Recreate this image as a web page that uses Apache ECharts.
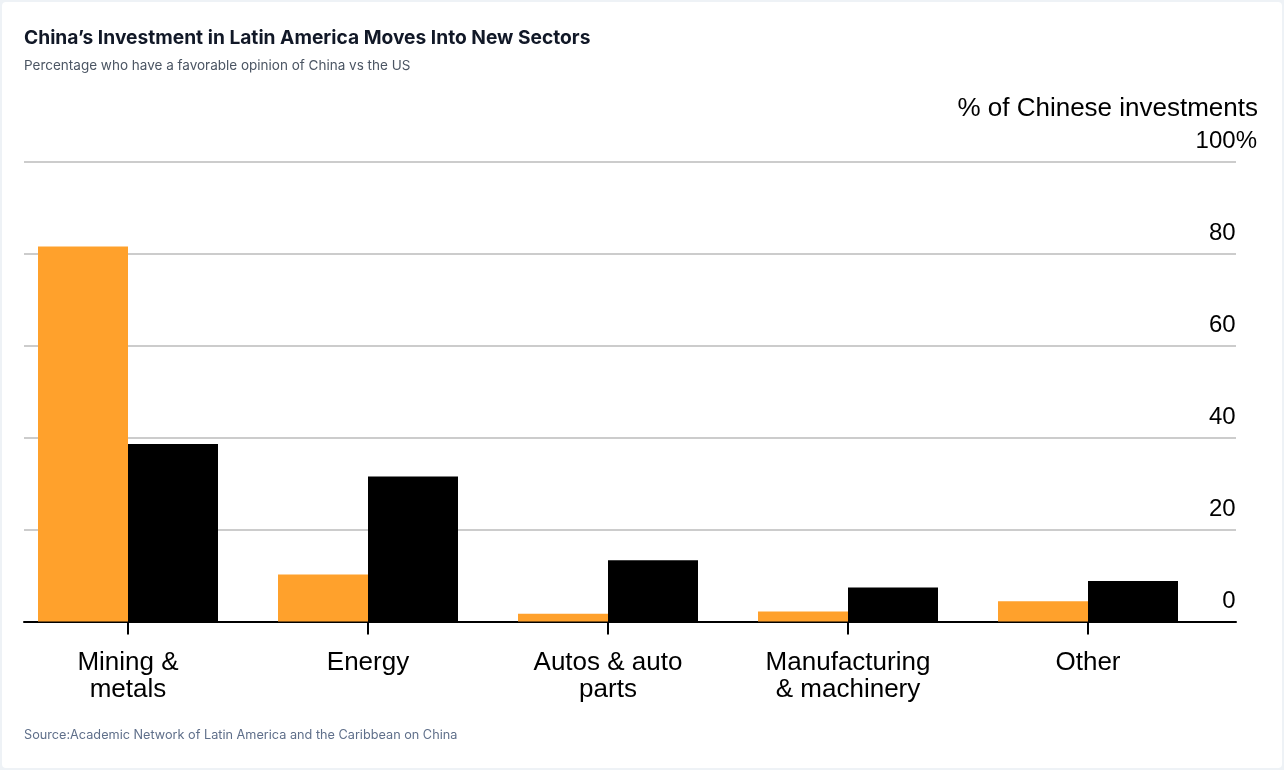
<!DOCTYPE html>
<html>
<head>
<meta charset="utf-8">
<script src="https://cdn.jsdelivr.net/npm/echarts@6/dist/echarts.min.js"></script>
<style>
  html, body { margin: 0; padding: 0; background: #eef2f6; width: 1284px; height: 770px; overflow: hidden; }
  #card { position: absolute; left: 2px; top: 2px; width: 1280px; height: 766px; background: #ffffff; border-radius: 4px; }
  #chart { position: absolute; left: 0; top: 0; width: 1284px; height: 770px; }
</style>
</head>
<body>
<div id="card"></div>
<div id="chart"></div>
<script>
// ---- data ----
const categories = ['Mining &\nmetals', 'Energy', 'Autos & auto\nparts', 'Manufacturing\n& machinery', 'Other'];
const seriesOrangeName = 'Series 1';
const seriesOrange = [81.5, 10.2, 1.7, 2.2, 4.4];
const seriesBlackName = 'Series 2';
const seriesBlack = [38.6, 31.5, 13.3, 7.4, 8.8];
const yTicks = [0, 20, 40, 60, 80, 100];
const titleText = 'China\u2019s Investment in Latin America Moves Into New Sectors';
const subtitleText = 'Percentage who have a favorable opinion of China vs the US';
const sourceText = 'Source:Academic Network of Latin America and the Caribbean on China';
const unitText = '% of Chinese investments';

const chart = echarts.init(document.getElementById('chart'), null, { renderer: 'canvas' });

const axisFont = '"Liberation Sans", Arial, Helvetica, sans-serif';
const uiFont = 'Inter, "Noto Sans", sans-serif';
const plotTop = 161.5;
const plotBottom = 770 - 621.5;

const option = {
  backgroundColor: 'transparent',
  animation: false,
  title: [
    { text: titleText, left: 24, top: 28.5, padding: 0,
      textStyle: { fontFamily: uiFont, fontSize: 19.2, fontWeight: 700, color: '#111827', lineHeight: 19 } },
    { text: subtitleText, left: 24, top: 59.5, padding: 0,
      textStyle: { fontFamily: uiFont, fontSize: 13.5, fontWeight: 400, color: '#4b5563', lineHeight: 13 } },
    { text: sourceText, left: 24, top: 729, padding: 0,
      textStyle: { fontFamily: uiFont, fontSize: 12.7, fontWeight: 400, color: '#5f6f8a', lineHeight: 12 } },
    { text: unitText, right: 26, top: 96, padding: 0,
      textStyle: { fontFamily: axisFont, fontSize: 26, fontWeight: 400, color: '#000', lineHeight: 26 } }
  ],
  grid: [
    { left: 24, right: 48, top: plotTop, bottom: plotBottom },
    { left: 8, right: 76, top: plotTop, bottom: plotBottom }
  ],
  xAxis: [
    { type: 'category', gridIndex: 0, data: categories,
      axisLine: { show: true, lineStyle: { color: '#000', width: 2 } },
      axisTick: { show: false }, axisLabel: { show: false }, splitLine: { show: false } },
    { type: 'category', gridIndex: 1, data: categories,
      axisLine: { show: false },
      axisTick: { show: true, alignWithLabel: true, length: 13, lineStyle: { color: '#000', width: 2 } },
      axisLabel: { interval: 0, margin: 28, fontFamily: axisFont, fontSize: 26, lineHeight: 27, color: '#000' },
      splitLine: { show: false } }
  ],
  yAxis: [
    { type: 'value', gridIndex: 0, position: 'right', min: yTicks[0], max: yTicks[yTicks.length - 1], interval: 20,
      axisLine: { show: false }, axisTick: { show: false },
      splitLine: { show: true, lineStyle: { color: '#cccccc', width: 2 } },
      axisLabel: {
        inside: true, margin: -21, fontFamily: axisFont, fontSize: 24, color: '#000',
        verticalAlign: 'bottom', lineHeight: 24, padding: [0, 0, 8, 0],
        formatter: function (v) { return v === 100 ? '100%' : v + '{h|%}'; },
        rich: { h: { color: 'rgba(0,0,0,0)', fontFamily: axisFont, fontSize: 24, lineHeight: 24 } }
      } },
    { type: 'value', gridIndex: 1, min: 0, max: 100, show: false }
  ],
  series: [
    { name: seriesOrangeName, type: 'bar', xAxisIndex: 1, yAxisIndex: 1, data: seriesOrange,
      barWidth: 90, barGap: '0%', itemStyle: { color: '#FFA12C' }, z: 1 },
    { name: seriesBlackName, type: 'bar', xAxisIndex: 1, yAxisIndex: 1, data: seriesBlack,
      barWidth: 90, barGap: '0%', itemStyle: { color: '#000000' }, z: 1 }
  ]
};
chart.setOption(option);
</script>
</body>
</html>
